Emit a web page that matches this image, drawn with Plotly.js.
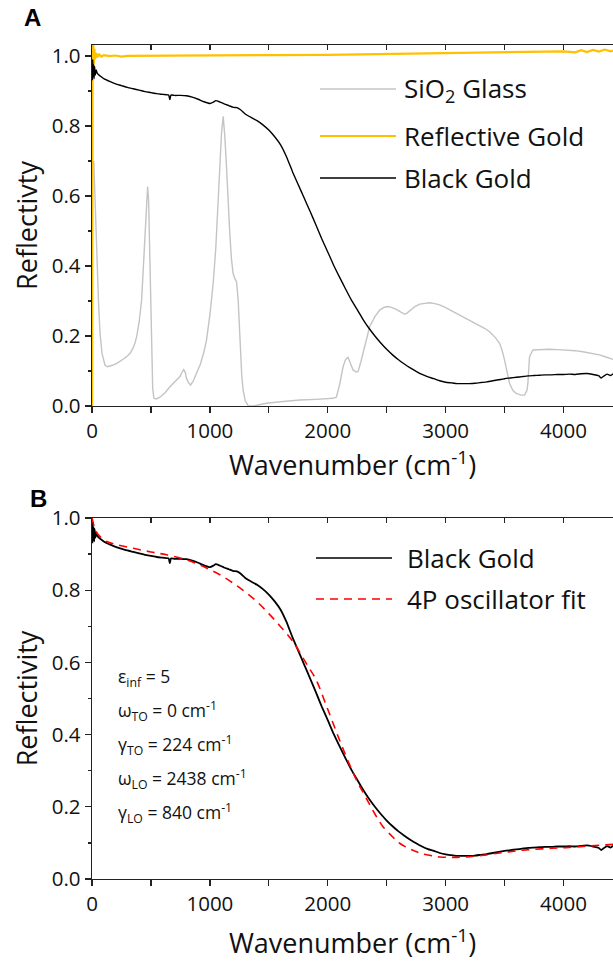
<!DOCTYPE html>
<html>
<head>
<meta charset="utf-8">
<script src="https://cdn.plot.ly/plotly-3.0.1.min.js"></script>
<style>html,body{margin:0;padding:0;background:#fff;}#chart{width:613px;height:969px;}</style>
</head>
<body>
<div id="chart"></div>
<script>
// ---- Data ----
// Panel A: SiO2 glass reflectivity
const sio2Wn = [15,25,40,55,68,85,110,130,153,180,210,237,270,300,322,345,365,379,400,421,435,449,460,472,480,492,500,506,515,525,545,576,620,661,700,746,765,778,790,802,820,836,860,887,920,950,972,1000,1028,1050,1070,1085,1099,1113,1127,1141,1155,1169,1183,1197,1210,1226,1240,1250,1260,1270,1282,1300,1325,1345,1367,1400,1480,1600,1763,1900,2045,2073,2100,2130,2150,2172,2195,2215,2240,2257,2280,2299,2330,2356,2400,2441,2480,2511,2545,2582,2620,2653,2675,2695,2740,2780,2820,2864,2900,2949,3000,3062,3120,3175,3230,3288,3330,3373,3420,3458,3480,3500,3520,3542,3570,3599,3640,3669,3690,3698,3706,3712,3740,3800,3881,3950,4023,4100,4164,4230,4305,4360,4420];
const sio2R  = [0.70,0.62,0.45,0.30,0.208,0.15,0.117,0.112,0.114,0.117,0.122,0.127,0.135,0.143,0.15,0.163,0.18,0.198,0.24,0.303,0.40,0.493,0.58,0.627,0.59,0.398,0.23,0.114,0.05,0.022,0.02,0.025,0.038,0.055,0.068,0.084,0.097,0.104,0.097,0.078,0.066,0.06,0.072,0.093,0.12,0.155,0.189,0.26,0.35,0.45,0.589,0.70,0.78,0.827,0.77,0.684,0.58,0.493,0.42,0.379,0.365,0.355,0.303,0.23,0.16,0.09,0.046,0.015,0.001,0.0,0.0,0.002,0.008,0.012,0.017,0.019,0.022,0.025,0.06,0.112,0.132,0.139,0.12,0.103,0.097,0.098,0.125,0.15,0.195,0.227,0.255,0.274,0.282,0.284,0.281,0.276,0.268,0.262,0.266,0.272,0.284,0.291,0.293,0.295,0.293,0.289,0.281,0.27,0.26,0.25,0.24,0.231,0.222,0.212,0.196,0.179,0.158,0.131,0.095,0.065,0.045,0.036,0.031,0.031,0.045,0.065,0.11,0.141,0.16,0.161,0.162,0.161,0.16,0.158,0.155,0.151,0.146,0.14,0.133];

// Panel A: reflective gold
const goldWn = [1,3,5,8,11,15,20,26,35,45,60,80,100,150,200,250,300,400,500,600,800,1000,1500,2000,2500,3000,3200,3500,3800,4000,4100,4150,4200,4250,4300,4350,4400,4420];
const goldR  = [0.0,0.6,1.04,0.96,1.035,0.975,1.02,0.99,1.008,0.996,1.004,0.998,1.002,0.999,1.001,0.998,1.0,1.0,1.0,1.001,1.001,1.001,1.002,1.003,1.005,1.007,1.009,1.01,1.012,1.013,1.01,1.016,1.011,1.017,1.012,1.018,1.013,1.015];

// Black gold (both panels)
const bgWn = [3,6,10,14,18,22,28,35,45,60,80,100,150,200,250,300,350,400,450,500,550,600,650,660,670,700,750,800,850,900,950,1000,1030,1050,1080,1120,1160,1200,1230,1260,1300,1350,1400,1450,1500,1550,1600,1650,1700,1750,1800,1850,1900,1950,2000,2050,2100,2150,2200,2250,2300,2350,2400,2450,2500,2550,2600,2650,2700,2750,2800,2850,2900,2950,3000,3050,3100,3150,3200,3250,3300,3350,3400,3450,3500,3550,3600,3650,3700,3750,3800,3850,3900,3950,4000,4050,4100,4150,4200,4250,4300,4320,4340,4370,4400,4420];
const bgR  = [0.93,0.99,0.94,0.975,0.935,0.97,0.945,0.96,0.95,0.945,0.94,0.935,0.927,0.92,0.915,0.91,0.906,0.902,0.898,0.895,0.892,0.89,0.888,0.875,0.888,0.887,0.887,0.886,0.882,0.876,0.869,0.864,0.868,0.872,0.869,0.863,0.858,0.853,0.852,0.846,0.834,0.824,0.815,0.803,0.788,0.769,0.746,0.712,0.67,0.632,0.594,0.556,0.517,0.477,0.44,0.402,0.368,0.335,0.303,0.275,0.247,0.222,0.2,0.18,0.162,0.146,0.132,0.12,0.109,0.099,0.09,0.083,0.078,0.072,0.068,0.066,0.064,0.064,0.064,0.065,0.067,0.069,0.072,0.075,0.078,0.08,0.082,0.084,0.086,0.087,0.088,0.089,0.089,0.09,0.09,0.091,0.09,0.092,0.093,0.09,0.086,0.08,0.085,0.091,0.087,0.092];

// Panel B: 4P oscillator fit
const fitWn = [0,20,45,80,124,200,350,500,633,800,900,1000,1100,1200,1300,1400,1500,1600,1700,1800,1850,1900,2000,2100,2186,2250,2300,2400,2469,2550,2610,2700,2751,2800,2893,2950,3034,3100,3175,3300,3458,3600,3740,3900,4023,4200,4420];
const fitR  = [1.0,0.975,0.957,0.945,0.935,0.927,0.916,0.906,0.898,0.884,0.872,0.857,0.84,0.819,0.795,0.768,0.735,0.699,0.66,0.607,0.58,0.553,0.47,0.385,0.316,0.27,0.24,0.18,0.145,0.117,0.099,0.083,0.076,0.07,0.064,0.061,0.06,0.06,0.061,0.065,0.072,0.078,0.082,0.085,0.087,0.091,0.096];

const fitParams = [
  'ε<sub>inf</sub> = 5',
  'ω<sub>TO</sub> = 0 cm<sup>-1</sup>',
  'γ<sub>TO</sub> = 224 cm<sup>-1</sup>',
  'ω<sub>LO</sub> = 2438 cm<sup>-1</sup>',
  'γ<sub>LO</sub> = 840 cm<sup>-1</sup>'
];
const legendA = ['SiO<sub>2</sub> Glass','Reflective Gold','Black Gold'];
const legendB = ['Black Gold','4P oscillator fit'];

// ---- Styles ----
const FONT = 'Open Sans, Lato, sans-serif';
const cGray = '#c4c4c4', cGold = '#ffc000', cBlack = '#000000', cRed = '#ff0000';

const traces = [
  {x: sio2Wn, y: sio2R, xaxis:'x', yaxis:'y', type:'scatter', mode:'lines', line:{color:cGray, width:1.4}, showlegend:false},
  {x: goldWn, y: goldR, xaxis:'x', yaxis:'y', type:'scatter', mode:'lines', line:{color:cGold, width:2.2}, showlegend:false},
  {x: bgWn, y: bgR, xaxis:'x', yaxis:'y', type:'scatter', mode:'lines', line:{color:cBlack, width:1.4, shape:'spline', smoothing:0.5}, showlegend:false},
  {x: bgWn, y: bgR, xaxis:'x2', yaxis:'y2', type:'scatter', mode:'lines', line:{color:cBlack, width:1.8, shape:'spline', smoothing:0.5}, showlegend:false},
  {x: fitWn, y: fitR, xaxis:'x2', yaxis:'y2', type:'scatter', mode:'lines', line:{color:cRed, width:1.6, dash:'8px,6px', shape:'spline'}, showlegend:false},
  {x: [], y: [], xaxis:'x3', yaxis:'y', type:'scatter', showlegend:false},
  {x: [], y: [], xaxis:'x4', yaxis:'y2', type:'scatter', showlegend:false}
];

const XR = [0, 4420];
const axLine = {showline:true, linecolor:'#222', linewidth:1.3, showgrid:false, zeroline:false};
function xBottom(anchor, standoff){
  return Object.assign({}, axLine, {
    anchor: anchor, range: XR, tick0:0, dtick:1000, ticks:'outside', ticklen:6, tickwidth:1.3, tickcolor:'#222',
    minor:{dtick:500, ticks:'outside', ticklen:6, tickwidth:1.3, tickcolor:'#222'},
    tickfont:{size:20.5, color:'#111', family:FONT},
    title:{text:'Wavenumber (cm<sup>-1</sup>)', font:{size:27, color:'#111', family:FONT}, standoff:standoff}
  });
}
function xTop(anchor, over){
  return Object.assign({}, axLine, {
    anchor: anchor, overlaying: over, side:'top', range: XR, tick0:0, dtick:500, ticks:'inside', ticklen:5, tickwidth:1.3, tickcolor:'#222',
    showticklabels:false
  });
}
function yAx(anchor, domain, range, title){
  return Object.assign({}, axLine, {
    anchor: anchor, domain: domain, range: range, tick0:0, dtick:0.2, tickformat:'.1f',
    ticks:'outside', ticklen:6, tickwidth:1.3, tickcolor:'#222',
    minor:{dtick:0.1, ticks:'outside', ticklen:3, tickwidth:1.3, tickcolor:'#222'},
    tickfont:{size:20.5, color:'#111', family:FONT},
    title:{text:title, font:{size:27, color:'#111', family:FONT}, standoff:6}
  });
}

// paper-coordinate helpers (plot area: x 92..613, y 45..879 px)
const px = v => (v - 92) / 521;
const py = v => (879 - v) / 834;

const shapes = [];
const annotations = [];
const legAY = [89, 136, 178];
const legAColors = [cGray, cGold, cBlack];
legendA.forEach((t, i) => {
  shapes.push({type:'line', xref:'paper', yref:'paper', x0:px(320), x1:px(396), y0:py(legAY[i]), y1:py(legAY[i]), line:{color:legAColors[i], width: i===1?2:1.4}});
  annotations.push({xref:'paper', yref:'paper', x:px(402), y:py(legAY[i]), xanchor:'left', yanchor:'middle', text:t, showarrow:false, font:{size:26, color:'#111', family:FONT}});
});
const legBY = [558, 599];
legendB.forEach((t, i) => {
  shapes.push({type:'line', xref:'paper', yref:'paper', x0:px(316), x1:px(392), y0:py(legBY[i]), y1:py(legBY[i]), line:{color: i===0?cBlack:cRed, width:1.7, dash: i===0?'solid':'8px,6px'}});
  annotations.push({xref:'paper', yref:'paper', x:px(405), y:py(legBY[i]), xanchor:'left', yanchor:'middle', text:t, showarrow:false, font:{size:26, color:'#111', family:FONT}});
});
const parY = [677, 711, 745, 779, 813];
fitParams.forEach((t, i) => {
  annotations.push({xref:'paper', yref:'paper', x:px(116), y:py(parY[i]), xanchor:'left', yanchor:'middle', text:t, showarrow:false, font:{size:17.5, color:'#111', family:FONT}});
});
annotations.push({xref:'paper', yref:'paper', x:px(32), y:py(18), xanchor:'center', yanchor:'middle', text:'<b>A</b>', showarrow:false, font:{size:24, color:'#000', family:'Liberation Sans, Arial, sans-serif'}});
annotations.push({xref:'paper', yref:'paper', x:px(38), y:py(499), xanchor:'center', yanchor:'middle', text:'<b>B</b>', showarrow:false, font:{size:24, color:'#000', family:'Liberation Sans, Arial, sans-serif'}});

const layout = {
  width:613, height:969,
  margin:{l:92, r:0, t:45, b:90, pad:0},
  paper_bgcolor:'#fff', plot_bgcolor:'#fff',
  font:{family:FONT, color:'#111'},
  showlegend:false,
  xaxis: xBottom('y', 10),
  yaxis: yAx('x', [(879-406)/834, 1], [0, 1.031], 'Reflectivty'),
  xaxis2: xBottom('y2', 18),
  yaxis2: yAx('x2', [0, (879-518)/834], [0, 1.0], 'Reflectivity'),
  xaxis3: xTop('y', 'x'),
  xaxis4: xTop('y2', 'x2'),
  shapes: shapes,
  annotations: annotations
};

Plotly.newPlot('chart', traces, layout, {staticPlot:true, displayModeBar:false});
</script>
</body>
</html>
